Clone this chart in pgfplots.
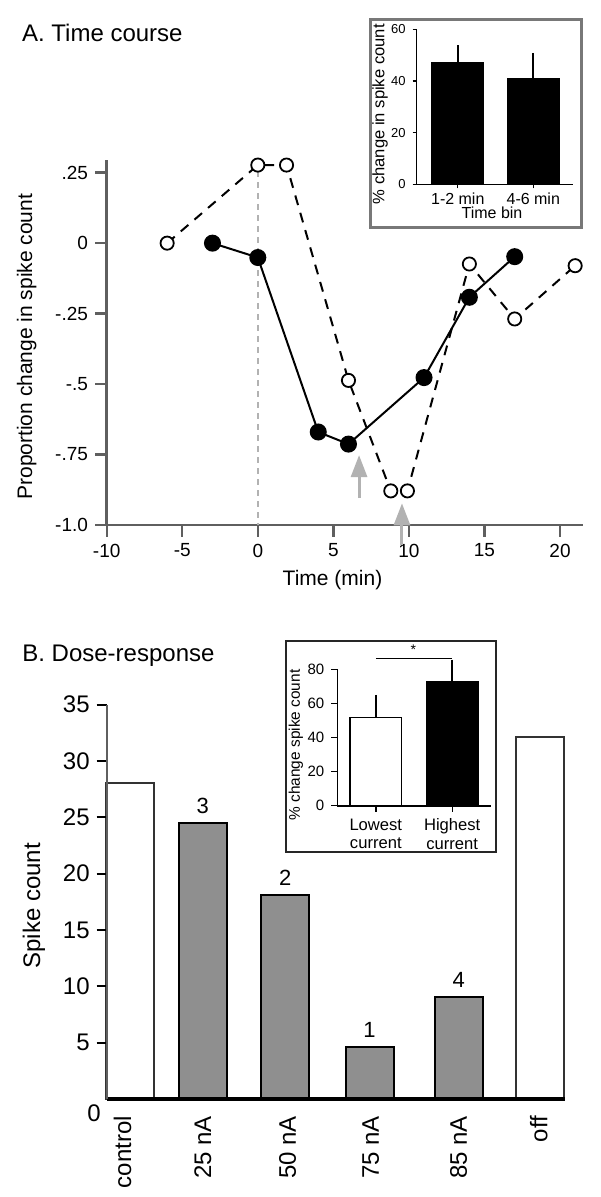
\documentclass[border=0pt]{standalone}
\usepackage{fontspec}
\setmainfont{Liberation Sans}
\usepackage{pgfplots}
\pgfplotsset{compat=1.18}
\usetikzlibrary{arrows.meta}
\definecolor{axgray}{RGB}{95,95,95}
\definecolor{bargray}{RGB}{143,143,143}
\definecolor{arrowgray}{RGB}{178,178,178}
\definecolor{boxgray}{RGB}{120,120,120}
\newcommand{\fs}[1]{\fontsize{#1}{#1}\selectfont}

\begin{document}
\begin{tikzpicture}
\useasboundingbox (0,0) rectangle (300pt,-598.5pt);

% ---------------- Panel A ----------------
\node[anchor=base west, inner sep=0, font=\fs{12pt}] at (10.85pt,-20.85pt) {A. Time course};

\begin{axis}[
  at={(53.35pt,-262.5pt)}, anchor=south west,
  scale only axis, width=238pt, height=182.5pt,
  xmin=-10, xmax=21.5, ymin=-1, ymax=0.295,
  axis x line*=bottom, axis y line*=left,
  axis line style={axgray, line width=1.3pt, -},
  tick style={axgray, line width=1.2pt},
  tick align=outside, major tick length=5.85pt,
  xtick={-10,-5,0,5,10,15,20},
  xticklabels={-10,-5,0,5,10,15,20},
  ytick={-1,-0.75,-0.5,-0.25,0,0.25},
  yticklabels={-1.0,-.75,-.5,-.25,0,.25},
  ticklabel style={font=\fs{9.5pt}},
  clip=false,
]
\draw[arrowgray, line width=1.2pt, dash pattern=on 3pt off 2.5pt] (axis cs:0,0.255) -- (axis cs:0,-1);
\addplot[black, line width=1pt, dash pattern=on 5pt off 4pt, mark=*, mark size=3.3pt,
  mark options={solid, fill=white, draw=black, line width=0.9pt}]
  coordinates {(-6,0) (0,0.277) (1.9,0.277) (6,-0.487) (8.8,-0.879) (9.9,-0.879) (14,-0.074) (17,-0.269) (21,-0.08)};
\addplot[black, line width=1pt, mark=*, mark size=3.75pt, mark options={fill=black}]
  coordinates {(-3,0) (0,-0.051) (4,-0.67) (6,-0.713) (11,-0.477) (14,-0.192) (17,-0.048)};
\draw[arrowgray, line width=1.5pt, -{Triangle[length=11pt,width=8pt]}] (axis cs:6.7,-0.905) -- (axis cs:6.7,-0.752);
\draw[arrowgray, line width=1.5pt, -{Triangle[length=11pt,width=8pt]}] (axis cs:9.54,-1.07) -- (axis cs:9.54,-0.923);
\end{axis}
\node[rotate=90, font=\fs{10.5pt}] at (13.35pt,-173.35pt) {Proportion change in spike count};
\node[font=\fs{10.5pt}] at (166.25pt,-290pt) {Time (min)};

% inset A
\draw[boxgray, line width=1.5pt, fill=white] (185pt,-10pt) rectangle (290.85pt,-113.85pt);
\begin{axis}[
  at={(208.35pt,-92.15pt)}, anchor=south west,
  scale only axis, width=78.3pt, height=77.5pt,
  xmin=-0.544, xmax=1.53, ymin=0, ymax=60,
  axis x line*=bottom, axis y line*=left,
  axis line style={black, line width=0.7pt, -},
  tick style={black, line width=0.6pt},
  tick align=outside, major tick length=2pt,
  xtick={0,1}, xticklabels={1-2 min,4-6 min},
  ytick={0,20,40,60},
  ticklabel style={font=\fs{6.5pt}},
  xticklabel style={font=\fs{8pt}, yshift=1.3pt},
  /pgf/number format/assume math mode=true,
]
\addplot[ybar, bar width=26pt, bar shift=0pt, fill=black, draw=black,
  error bars/.cd, y dir=plus, y explicit,
  error bar style={black, line width=0.8pt}, error mark options={black, mark size=1.5pt, line width=0.8pt}]
  coordinates {(0,47.1) +- (0,5.5) (1,41.0) +- (0,8.7)};
\end{axis}
\node[rotate=90, font=\fs{8.3pt}] at (190pt,-57.1pt) {\% change in spike count};
\node[anchor=base, inner sep=0, font=\fs{8pt}] at (246pt,-109.3pt) {Time bin};

% ---------------- Panel B ----------------
\node[anchor=base west, inner sep=0, font=\fs{12pt}] at (11pt,-330.85pt) {B. Dose-response};

\begin{axis}[
  at={(53.35pt,-549.5pt)}, anchor=south west,
  scale only axis, width=229.15pt, height=197.15pt,
  xmin=0, xmax=458.3, ymin=0, ymax=35,
  axis x line*=bottom, axis y line*=left,
  x axis line style={black, line width=1.6pt, -},
  y axis line style={axgray, line width=1.2pt, -},
  axis on top,
  ytick={5,10,...,35},
  y tick style={black, line width=1pt},
  tick align=outside, major tick length=5pt,
  xtick={15.8,96.1,181,264,352,432},
  xticklabels={control,25 nA,50 nA,75 nA,85 nA,off},
  x tick style={draw=none},
  xticklabel style={rotate=90, anchor=east},
  ticklabel style={font=\fs{12pt}},
  /pgf/number format/assume math mode=true,
  clip=false,
]
\addplot[ybar, bar width=24pt, bar shift=0pt, fill=white, draw=black!80, line width=1pt]
  coordinates {(23.6,28.07) (433,32.15)};
\addplot[ybar, bar width=24pt, bar shift=0pt, fill=bargray, draw=black, line width=1pt,
  point meta=explicit symbolic, nodes near coords,
  nodes near coords style={anchor=south, inner sep=0pt, yshift=4.5pt, font=\fs{11pt}, black}]
  coordinates {(96.1,24.46)[3] (178.5,18.1)[2] (262.8,4.59)[1] (352.1,9.02)[4]};
\end{axis}
\node[font=\fs{12pt}] at (47pt,-556.65pt) {0};
\node[rotate=90, font=\fs{12pt}] at (17pt,-452.9pt) {Spike count};

% inset B
\draw[black!85, line width=1.2pt, fill=white] (143pt,-320.35pt) rectangle (248pt,-425.85pt);
\begin{axis}[
  at={(168.65pt,-402.85pt)}, anchor=south west,
  scale only axis, width=76.7pt, height=68.2pt,
  xmin=-0.504, xmax=1.504, ymin=0, ymax=80,
  axis x line*=bottom, axis y line*=left,
  axis line style={black, line width=0.8pt, -},
  tick style={black, line width=0.7pt},
  tick align=outside, major tick length=3pt,
  xtick={0,1}, xticklabels={{Lowest\\current},{Highest\\current}},
  ytick={0,20,40,60,80},
  ticklabel style={font=\fs{7.5pt}},
  xticklabel style={font=\fontsize{8.3pt}{9.2pt}\selectfont, align=center},
  /pgf/number format/assume math mode=true,
  clip=false,
]
\addplot[ybar, bar width=25.75pt, bar shift=0pt, fill=white, draw=black, line width=0.8pt,
  error bars/.cd, y dir=plus, y explicit,
  error bar style={black, line width=0.8pt}, error mark options={black, mark size=1.5pt, line width=0.8pt}]
  coordinates {(0,51.8) +- (0,11.5)};
\addplot[ybar, bar width=25.75pt, bar shift=0pt, fill=black, draw=black, line width=0.8pt,
  error bars/.cd, y dir=plus, y explicit,
  error bar style={black, line width=0.8pt}, error mark options={black, mark size=1.5pt, line width=0.8pt}]
  coordinates {(1,72.7) +- (0,11.2)};
\draw[black, line width=0.7pt] (axis cs:0,86.5) -- (axis cs:1,86.5);
\node[font=\fs{7pt}] at (axis cs:0.49,91.3) {*};
\end{axis}
\node[rotate=90, font=\fs{7.7pt}] at (148pt,-372.5pt) {\% change spike count};

\end{tikzpicture}
\end{document}
